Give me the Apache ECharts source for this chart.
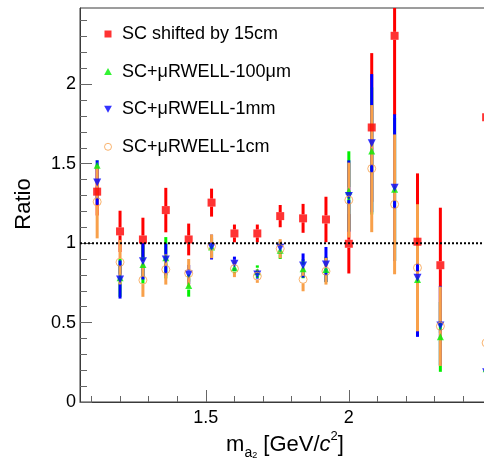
<!DOCTYPE html>
<html>
<head>
<meta charset="utf-8">
<script src="https://cdn.jsdelivr.net/npm/echarts@6/dist/echarts.min.js"></script>
<style>
  html, body { margin: 0; padding: 0; background: #fff; }
  #chart { width: 484px; height: 464px; }
</style>
</head>
<body>
<div id="chart"></div>
<script>
// Mass-bin centres (GeV/c^2)
const X_BINS = [1.12, 1.20, 1.28, 1.36, 1.44, 1.52, 1.60, 1.68, 1.76, 1.84, 1.92, 2.00, 2.08, 2.16, 2.24, 2.32, 2.48];

// SC shifted by 15cm
const RED_VAL = [1.324, 1.074, 1.023, 1.208, 1.023, 1.255, 1.061, 1.061, 1.170, 1.156, 1.149, 0.996, 1.728, 2.305, 1.009, 0.861, 1.793];
const RED_ERR = [0.15, 0.13, 0.137, 0.14, 0.10, 0.088, 0.056, 0.056, 0.07, 0.091, 0.143, 0.187, 0.468, 0.50, 0.43, 0.362, 0.5];

// SC+μRWELL-100μm
const GREEN_VAL = [1.49, 0.782, 0.866, 0.908, 0.733, 0.975, 0.845, 0.82, 0.955, 0.839, 0.834, 1.328, 1.58, 1.339, 0.771, 0.41, 0.21];
const GREEN_ERR = [0.03, 0.12, 0.12, 0.13, 0.07, 0.06, 0.04, 0.04, 0.055, 0.06, 0.08, 0.25, 0.40, 0.45, 0.35, 0.22, 0.2];

// SC+μRWELL-1mm
const BLUE_VAL = [1.381, 0.771, 0.886, 0.897, 0.803, 0.975, 0.87, 0.803, 0.971, 0.859, 0.866, 1.296, 1.629, 1.349, 0.782, 0.481, 0.187];
const BLUE_ERR = [0.14, 0.12, 0.115, 0.10, 0.06, 0.078, 0.045, 0.03, 0.04, 0.076, 0.11, 0.225, 0.435, 0.462, 0.372, 0.25, 0.2];

// SC+μRWELL-1cm
const ORANGE_VAL = [1.26, 0.88, 0.767, 0.834, 0.81, 0.98, 0.839, 0.792, 0.965, 0.772, 0.823, 1.271, 1.469, 1.244, 0.845, 0.477, 0.372];
const ORANGE_ERR = [0.23, 0.14, 0.105, 0.095, 0.09, 0.075, 0.053, 0.042, 0.06, 0.075, 0.084, 0.236, 0.40, 0.44, 0.40, 0.25, 0.3];

// Axis ticks and labels
const X_MAJOR = [1.5, 2.0, 2.5];
const X_MINOR = [1.1, 1.2, 1.3, 1.4, 1.6, 1.7, 1.8, 1.9, 2.1, 2.2, 2.3, 2.4];
const X_LABELS = [1.5, 2];
const Y_MAJOR = [0, 0.5, 1, 1.5, 2];
const Y_MINOR = [0.1, 0.2, 0.3, 0.4, 0.6, 0.7, 0.8, 0.9, 1.1, 1.2, 1.3, 1.4, 1.6, 1.7, 1.8, 1.9, 2.1, 2.2, 2.3, 2.4];
const Y_LABELS = [0, 0.5, 1, 1.5, 2];
const REFERENCE_RATIO = 1;

const X_MIN = 1.06, X_MAX = 2.56;
const Y_MIN = 0, Y_MAX = 2.48;

const FONT = '"Liberation Sans", Arial, Helvetica, sans-serif';
const RED = '#ff0000', GREEN = '#00f000', BLUE = '#0000ff', ORANGE = '#f8a04a';
const AXIS_COLOR = '#3a3a3a', TICK_COLOR = '#666';

const SQUARE = 'path://M0,0L10,0L10,10L0,10Z';
const TRI_UP = 'path://M5,0L10,9L0,9Z';
const TRI_DOWN = 'path://M0,0L10,0L5,9Z';
const CIRCLE = 'path://M0,5A5,5,0,1,0,10,5A5,5,0,1,0,0,5Z';

function pairs(vals) { return X_BINS.map((x, i) => [x, vals[i]]); }

// Vertical error bars, interrupted where the marker sits
function errorBars(id, vals, errs, color, gap) {
  return {
    type: 'custom',
    name: id,
    silent: true,
    xAxisIndex: 0, yAxisIndex: 0,
    data: X_BINS.map((x, i) => [x, vals[i], errs[i]]),
    encode: { x: 0, y: 1 },
    renderItem: function (params, api) {
      const x = api.value(0), y = api.value(1), e = api.value(2);
      const c = api.coord([x, y]);
      const top = api.coord([x, y + e])[1];
      const bot = api.coord([x, y - e])[1];
      const cs = params.coordSys;
      const lo = cs.y, hi = cs.y + cs.height;
      const clamp = v => Math.max(lo, Math.min(hi, v));
      const children = [];
      const seg = (a, b) => {
        a = clamp(a); b = clamp(b);
        if (b - a > 0.5) {
          children.push({ type: 'line', shape: { x1: c[0], y1: a, x2: c[0], y2: b },
            style: { stroke: color, lineWidth: 3, lineCap: 'butt' } });
        }
      };
      seg(top, c[1] - gap);
      seg(c[1] + gap, bot);
      return { type: 'group', children: children };
    }
  };
}

function markers(name, vals, symbol, size, itemStyle) {
  return {
    type: 'scatter', name: name, silent: true,
    xAxisIndex: 0, yAxisIndex: 0,
    data: pairs(vals), symbol: symbol, symbolSize: size,
    itemStyle: itemStyle
  };
}

const NAMES = ['SC shifted by 15cm', 'SC+μRWELL-100μm', 'SC+μRWELL-1mm', 'SC+μRWELL-1cm'];

const chart = echarts.init(document.getElementById('chart'), null, { renderer: 'canvas' });

chart.setOption({
  animation: false,
  backgroundColor: '#fff',
  // the frame runs on past the right edge of the canvas
  grid: { left: 80, top: 8, width: 429, height: 394, outerBoundsMode: 'none', containLabel: false,
    show: true, borderColor: AXIS_COLOR, borderWidth: 1, backgroundColor: 'transparent' },
  xAxis: [
    { type: 'value', position: 'bottom', min: X_MIN, max: X_MAX,
      axisLine: { show: true, onZero: false, lineStyle: { color: AXIS_COLOR, width: 1 } },
      axisTick: { show: true, inside: true, length: 12, customValues: X_MAJOR, lineStyle: { color: TICK_COLOR, width: 1 } },
      axisLabel: { show: true, customValues: X_LABELS, fontSize: 18, margin: 7, color: '#000', fontFamily: FONT },
      splitLine: { show: false } },
    { type: 'value', position: 'bottom', min: X_MIN, max: X_MAX,
      axisLine: { show: false, onZero: false },
      axisTick: { show: true, inside: true, length: 6, customValues: X_MINOR, lineStyle: { color: TICK_COLOR, width: 1 } },
      axisLabel: { show: false }, splitLine: { show: false } }
  ],
  yAxis: [
    { type: 'value', position: 'left', min: Y_MIN, max: Y_MAX,
      axisLine: { show: true, onZero: false, lineStyle: { color: AXIS_COLOR, width: 1 } },
      axisTick: { show: true, inside: true, length: 12, customValues: Y_MAJOR, lineStyle: { color: TICK_COLOR, width: 1 } },
      axisLabel: { show: true, customValues: Y_LABELS, fontSize: 18, margin: 4, color: '#000', fontFamily: FONT },
      splitLine: { show: false } },
    { type: 'value', position: 'left', min: Y_MIN, max: Y_MAX,
      axisLine: { show: false, onZero: false },
      axisTick: { show: true, inside: true, length: 7, customValues: Y_MINOR, lineStyle: { color: TICK_COLOR, width: 1 } },
      axisLabel: { show: false }, splitLine: { show: false } }
  ],
  legend: {
    orient: 'vertical', left: 99, top: 20,
    itemWidth: 18, itemHeight: 7, itemGap: 19.6,
    selectedMode: false,
    textStyle: { fontSize: 18, color: '#000', fontFamily: FONT },
    data: [
      { name: NAMES[0], icon: SQUARE, itemStyle: { color: RED, borderWidth: 0 } },
      { name: NAMES[1], icon: TRI_UP, itemStyle: { color: GREEN, borderWidth: 0 } },
      { name: NAMES[2], icon: TRI_DOWN, itemStyle: { color: BLUE, borderWidth: 0 } },
      { name: NAMES[3], icon: CIRCLE, itemStyle: { color: 'rgba(0,0,0,0)', borderColor: ORANGE, borderWidth: 1 } }
    ]
  },
  graphic: [
    { type: 'text', x: 24, y: 204, rotation: Math.PI / 2, silent: true,
      style: { text: 'Ratio', fontSize: 22, fontFamily: FONT, fill: '#000', align: 'center', verticalAlign: 'middle' } },
    { type: 'text', x: 285, y: 444.7, silent: true,
      style: {
        text: '{n|m}{s|a}{ss|2}{n| [GeV/}{i|c}{sup|2}{n|]}',
        align: 'center', verticalAlign: 'middle', fill: '#000', fontFamily: FONT,
        rich: {
          n: { fontSize: 22, lineHeight: 30, verticalAlign: 'middle', fontFamily: FONT, fill: '#000' },
          i: { fontSize: 22, lineHeight: 30, verticalAlign: 'middle', fontStyle: 'italic', fontFamily: FONT, fill: '#000' },
          s: { fontSize: 14, lineHeight: 19, verticalAlign: 'bottom', fontFamily: FONT, fill: '#000' },
          ss: { fontSize: 9, lineHeight: 6, verticalAlign: 'bottom', fontFamily: FONT, fill: '#000' },
          sup: { fontSize: 13, lineHeight: 22, verticalAlign: 'top', fontFamily: FONT, fill: '#000' }
        }
      } }
  ],
  series: [
    errorBars('red-err', RED_VAL, RED_ERR, RED, 4),
    markers(NAMES[0], RED_VAL, SQUARE, 8, { color: RED }),
    errorBars('green-err', GREEN_VAL, GREEN_ERR, GREEN, 4),
    markers(NAMES[1], GREEN_VAL, TRI_UP, 7, { color: GREEN }),
    errorBars('blue-err', BLUE_VAL, BLUE_ERR, BLUE, 4),
    markers(NAMES[2], BLUE_VAL, TRI_DOWN, 8, { color: BLUE }),
    errorBars('orange-err', ORANGE_VAL, ORANGE_ERR, ORANGE, 4),
    markers(NAMES[3], ORANGE_VAL, CIRCLE, 8, { color: 'rgba(0,0,0,0)', borderColor: ORANGE, borderWidth: 1 }),
    { type: 'line', name: 'ratio-one', silent: true, symbol: 'none', z: 5,
      xAxisIndex: 0, yAxisIndex: 0,
      data: [[X_MIN, REFERENCE_RATIO], [X_MAX, REFERENCE_RATIO]],
      lineStyle: { color: '#000', width: 2, type: [2, 2] } }
  ]
});
</script>
</body>
</html>
